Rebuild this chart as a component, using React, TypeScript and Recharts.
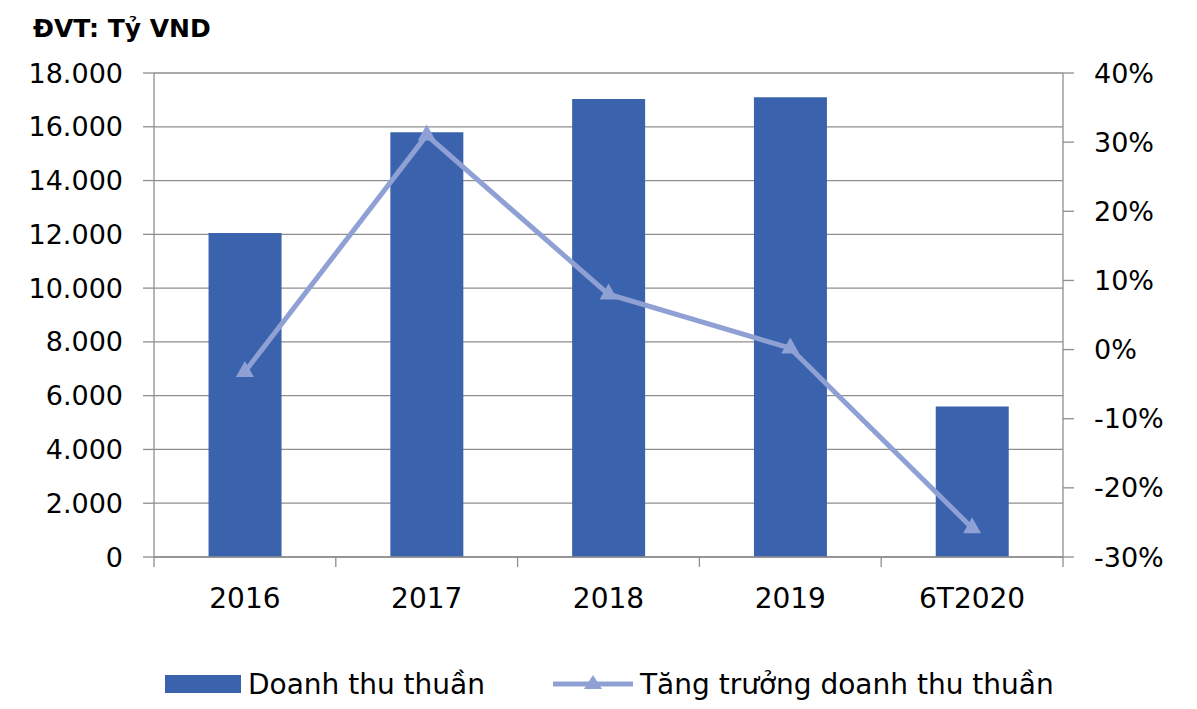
import React from 'react';
import { ComposedChart, Bar, Line, XAxis, YAxis, CartesianGrid, Legend } from 'recharts';

const categories = ['2016', '2017', '2018', '2019', '6T2020'];
const revenue = [12050, 15800, 17030, 17100, 5600];
const growth = [-3.2, 31.0, 8.0, 0.2, -25.8];
const revenueTicks = [0, 2000, 4000, 6000, 8000, 10000, 12000, 14000, 16000, 18000];
const growthTicks = [-30, -20, -10, 0, 10, 20, 30, 40];
const seriesNames = { revenue: 'Doanh thu thuần', growth: 'Tăng trưởng doanh thu thuần' };
const unitLabel = 'ĐVT: Tỷ VND';

const data = categories.map((c, i) => ({ name: c, revenue: revenue[i], growth: growth[i] }));

const W = 1197;
const H = 709;
const MARGIN = { top: 73, right: 14, left: 24, bottom: 0 };
const LEFT_AXIS_W = 130;
const RIGHT_AXIS_W = 120;
const PLOT_W = W - MARGIN.left - MARGIN.right - LEFT_AXIS_W - RIGHT_AXIS_W;
const HALF_BAND = PLOT_W / categories.length / 2;

const FONT = '"DejaVu Sans", Verdana, sans-serif';
const GRID = '#8e8e8e';
const BAR = '#3b63ad';
const LINE = '#8fa1d4';

const fmtThousands = (v: number) => v.toLocaleString('en-US').replace(/,/g, '.');

const XTick = (props: any) => {
  const { x, y, payload, index } = props;
  return (
    <g>
      <line x1={x - HALF_BAND} y1={y} x2={x - HALF_BAND} y2={y + 10} stroke={GRID} strokeWidth={1.3} />
      {index === categories.length - 1 && (
        <line x1={x + HALF_BAND} y1={y} x2={x + HALF_BAND} y2={y + 10} stroke={GRID} strokeWidth={1.3} />
      )}
      <text x={x} y={y + 31} dy="0.71em" textAnchor="middle" fill="#000" fontSize={28} fontFamily={FONT}>
        {payload.value}
      </text>
    </g>
  );
};

const Triangle = (props: any) => {
  const { cx, cy } = props;
  if (cx == null || cy == null) return null;
  const w = 9, h = 16;
  return (
    <polygon
      points={`${cx - w},${cy + h / 3} ${cx + w},${cy + h / 3} ${cx},${cy - (2 * h) / 3}`}
      fill={LINE}
      stroke="none"
    />
  );
};

const LegendContent = (props: any) => {
  const payload = props.payload || [];
  const positions = [165, 553];
  return (
    <div style={{ position: 'relative', width: W, height: 72, fontFamily: FONT, fontSize: 28, color: '#000' }}>
      {payload.map((item: any, i: number) => (
        <div
          key={i}
          style={{ position: 'absolute', left: positions[i], top: 32, height: 30, display: 'flex', alignItems: 'center', whiteSpace: 'nowrap' }}
        >
          {item.type === 'rect' ? (
            <svg width={76} height={20} style={{ marginRight: 7 }}>
              <rect x={0} y={1} width={76} height={18} fill={BAR} />
            </svg>
          ) : (
            <svg width={80} height={20} style={{ marginRight: 7 }}>
              <line x1={0} y1={10} x2={80} y2={10} stroke={LINE} strokeWidth={5} />
              <polygon points="31,15 49,15 40,1" fill={LINE} />
            </svg>
          )}
          <span>{item.value}</span>
        </div>
      ))}
    </div>
  );
};

export default function App() {
  return (
    <div style={{ position: 'absolute', left: 0, top: 0, width: W, height: H, background: '#fff' }}>
      <div
        style={{
          position: 'absolute',
          left: 33,
          top: 14,
          fontFamily: FONT,
          fontWeight: 'bold',
          fontSize: 25,
          color: '#000',
          zIndex: 2,
        }}
      >
        {unitLabel}
      </div>
      <ComposedChart width={W} height={H} data={data} margin={MARGIN} barCategoryGap="30%">
        <CartesianGrid yAxisId="left" vertical={false} stroke={GRID} strokeWidth={1.3} />
        <XAxis
          dataKey="name"
          height={80}
          tickSize={0}
          tickMargin={0}
          tickLine={false}
          axisLine={{ stroke: GRID, strokeWidth: 1.3 }}
          tick={<XTick />}
          interval={0}
        />
        <YAxis
          yAxisId="left"
          orientation="left"
          width={LEFT_AXIS_W}
          domain={[0, 18000]}
          ticks={revenueTicks}
          tickFormatter={fmtThousands}
          tickSize={11}
          tickMargin={20}
          axisLine={{ stroke: GRID, strokeWidth: 1.3 }}
          tickLine={{ stroke: GRID, strokeWidth: 1.3 }}
          tick={{ fill: '#000', fontSize: 27, fontFamily: FONT }}
          interval={0}
        />
        <YAxis
          yAxisId="right"
          orientation="right"
          width={RIGHT_AXIS_W}
          domain={[-30, 40]}
          ticks={growthTicks}
          tickFormatter={(v: number) => `${v}%`}
          tickSize={11}
          tickMargin={20}
          axisLine={{ stroke: GRID, strokeWidth: 1.3 }}
          tickLine={{ stroke: GRID, strokeWidth: 1.3 }}
          tick={{ fill: '#000', fontSize: 27, fontFamily: FONT, textAnchor: 'start' }}
          interval={0}
        />
        <Bar yAxisId="left" dataKey="revenue" name={seriesNames.revenue} fill={BAR} isAnimationActive={false} legendType="rect" />
        <Line
          yAxisId="right"
          dataKey="growth"
          name={seriesNames.growth}
          stroke={LINE}
          strokeWidth={5}
          dot={<Triangle />}
          activeDot={false}
          isAnimationActive={false}
          legendType="triangle"
        />
        <Legend
          verticalAlign="bottom"
          content={<LegendContent />}
          wrapperStyle={{ left: 0, bottom: 0, width: W, height: 72 }}
        />
      </ComposedChart>
    </div>
  );
}
